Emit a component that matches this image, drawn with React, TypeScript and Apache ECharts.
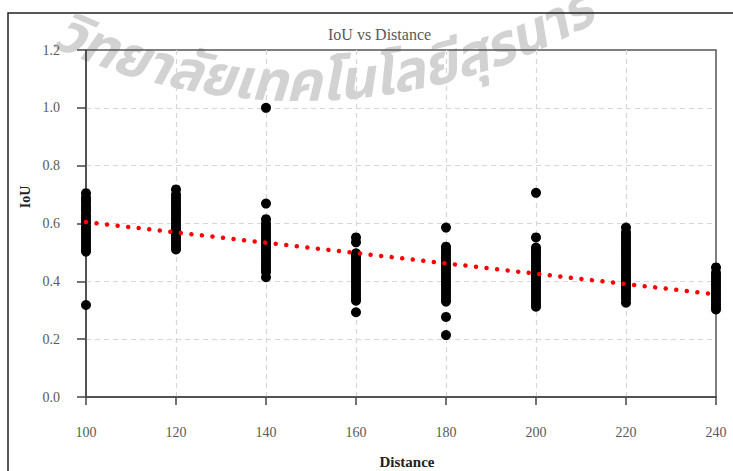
import React, { useEffect, useRef } from "react";
import * as echarts from "echarts";

const distances = [100, 120, 140, 160, 180, 200, 220, 240];
const iou100 = [0.705, 0.69, 0.68, 0.672, 0.66, 0.65, 0.643, 0.63, 0.62, 0.61, 0.602, 0.59, 0.58, 0.57, 0.561, 0.55, 0.54, 0.53, 0.52, 0.51, 0.503, 0.318];
const iou120 = [0.718, 0.70, 0.69, 0.68, 0.67, 0.66, 0.65, 0.64, 0.63, 0.62, 0.61, 0.60, 0.59, 0.58, 0.57, 0.56, 0.55, 0.54, 0.53, 0.52, 0.51];
const iou140 = [1.0, 0.669, 0.615, 0.60, 0.59, 0.58, 0.57, 0.56, 0.55, 0.54, 0.53, 0.52, 0.51, 0.50, 0.49, 0.48, 0.47, 0.46, 0.45, 0.44, 0.432, 0.414];
const iou160 = [0.552, 0.535, 0.497, 0.49, 0.48, 0.47, 0.46, 0.45, 0.44, 0.43, 0.42, 0.41, 0.40, 0.39, 0.38, 0.37, 0.36, 0.35, 0.34, 0.333, 0.293];
const iou180 = [0.586, 0.52, 0.51, 0.50, 0.49, 0.48, 0.47, 0.46, 0.45, 0.44, 0.43, 0.42, 0.41, 0.40, 0.39, 0.38, 0.37, 0.36, 0.35, 0.34, 0.33, 0.277, 0.214];
const iou200 = [0.706, 0.552, 0.517, 0.51, 0.50, 0.49, 0.48, 0.47, 0.46, 0.45, 0.44, 0.43, 0.42, 0.41, 0.40, 0.39, 0.38, 0.37, 0.36, 0.35, 0.34, 0.33, 0.32, 0.312];
const iou220 = [0.586, 0.57, 0.56, 0.55, 0.54, 0.53, 0.52, 0.51, 0.50, 0.49, 0.48, 0.47, 0.46, 0.45, 0.44, 0.43, 0.42, 0.41, 0.40, 0.39, 0.38, 0.37, 0.36, 0.35, 0.34, 0.326];
const iou240 = [0.448, 0.43, 0.42, 0.41, 0.40, 0.39, 0.38, 0.37, 0.36, 0.35, 0.34, 0.33, 0.32, 0.31, 0.303];
const iouByDistance = [iou100, iou120, iou140, iou160, iou180, iou200, iou220, iou240];

const trendX = [100, 240];
const trendY = [0.605, 0.355];

const yTicks = ["0.0", "0.2", "0.4", "0.6", "0.8", "1.0", "1.2"];

const titleText = "IoU vs Distance";
const xName = "Distance";
const yName = "IoU";
// watermark text, split into glyph clusters so it can follow an arc
const watermarkClusters = ["วิ", "ท", "ย", "า", "ลั", "ย", "เ", "ท", "ค", "โ", "น", "โ", "ล", "ยี", "สุ", "ร", "น", "า", "รี"];

const SERIF = "'Liberation Serif', 'Times New Roman', serif";
const WM_SIZE = 56;
const WM_FAMILY = "'Noto Sans Thai', 'Noto Sans', sans-serif";

function buildWatermark() {
  const canvas = document.createElement("canvas");
  const ctx = canvas.getContext("2d");
  if (ctx) ctx.font = `italic bold ${WM_SIZE}px ${WM_FAMILY}`;
  const R = 600;
  const cx = 300;
  const lowest = 112;
  const cy = lowest - R;
  let s = -262;
  return watermarkClusters.map((c) => {
    const w = ctx ? ctx.measureText(c).width : 30;
    const phi = (s + w / 2) / R;
    s += w;
    return {
      type: "text",
      z: -10,
      silent: true,
      x: cx + R * Math.sin(phi),
      y: cy + R * Math.cos(phi),
      rotation: phi,
      style: {
        text: c,
        fontFamily: WM_FAMILY,
        fontSize: WM_SIZE,
        fontWeight: "bold",
        fontStyle: "italic",
        fill: "#d2d2d2",
        align: "center",
        verticalAlign: "bottom",
      },
    };
  });
}

export default function App() {
  const ref = useRef<HTMLDivElement>(null);
  useEffect(() => {
    if (!ref.current) return;
    const chart = echarts.init(ref.current, undefined, { renderer: "svg" });
    const points: number[][] = [];
    distances.forEach((d, i) => {
      iouByDistance[i].forEach((v) => points.push([d, v]));
    });
    const trend = trendX.map((x, i) => [x, trendY[i]]);
    chart.setOption({
      animation: false,
      backgroundColor: "#ffffff",
      title: {
        text: titleText,
        left: 323,
        top: 21,
        textStyle: { fontFamily: SERIF, fontSize: 16, fontWeight: "normal", color: "#595959" },
      },
      grid: {
        left: 86,
        right: 17,
        top: 50,
        bottom: 74,
        show: true,
        borderColor: "#555",
        borderWidth: 1.5,
        backgroundColor: "transparent",
      },
      xAxis: {
        type: "value",
        min: 100,
        max: 240,
        interval: 20,
        axisLine: { show: true, onZero: false, lineStyle: { color: "#444", width: 1.5 } },
        axisTick: { show: true, length: 8, lineStyle: { color: "#444", width: 1.5 } },
        axisLabel: { margin: 28, fontFamily: SERIF, fontSize: 14, color: "#595959" },
        splitLine: {
          show: true,
          showMinLine: false,
          showMaxLine: false,
          lineStyle: { color: "#d6d6d6", type: [5, 4], width: 1.2 },
        },
      },
      yAxis: {
        type: "value",
        min: 0,
        max: 1.2,
        interval: 0.2,
        axisLine: { show: true, lineStyle: { color: "#444", width: 1.5 } },
        axisTick: { show: true, length: 9, lineStyle: { color: "#444", width: 1.5 } },
        axisLabel: {
          margin: 26,
          fontFamily: SERIF,
          fontSize: 14,
          color: "#595959",
          formatter: (v: number) => yTicks[Math.round(v / 0.2)] ?? v.toFixed(1),
        },
        splitLine: {
          show: true,
          showMinLine: false,
          showMaxLine: false,
          lineStyle: { color: "#d6d6d6", type: [5, 4], width: 1.2 },
        },
      },
      graphic: [
        ...buildWatermark(),
        {
          type: "rect",
          z: 10,
          silent: true,
          shape: { x: 8, y: 13, width: 900, height: 700 },
          style: { fill: "none", stroke: "#222", lineWidth: 1.5 },
        },
        {
          type: "text",
          x: 25,
          y: 197,
          rotation: Math.PI / 2,
          style: {
            text: yName,
            fontFamily: SERIF,
            fontSize: 14,
            fontWeight: "bold",
            fill: "#222",
            align: "center",
            verticalAlign: "middle",
          },
        },
        {
          type: "text",
          x: 407,
          y: 462,
          style: {
            text: xName,
            fontFamily: SERIF,
            fontSize: 15,
            fontWeight: "bold",
            fill: "#222",
            align: "center",
            verticalAlign: "middle",
          },
        },
      ],
      series: [
        {
          type: "scatter",
          name: "IoU",
          data: points,
          symbol: "circle",
          symbolSize: 10,
          itemStyle: { color: "#000", opacity: 1 },
          z: 2,
        },
        {
          type: "line",
          name: "Trend",
          data: trend,
          symbol: "none",
          z: 5,
          lineStyle: { color: "#ff0000", width: 4.5, type: [0.01, 10.6], cap: "round" },
        },
      ],
    });
    return () => chart.dispose();
  }, []);
  return (
    <div
      ref={ref}
      style={{ position: "fixed", left: 0, top: 0, width: 733, height: 471 }}
    />
  );
}
